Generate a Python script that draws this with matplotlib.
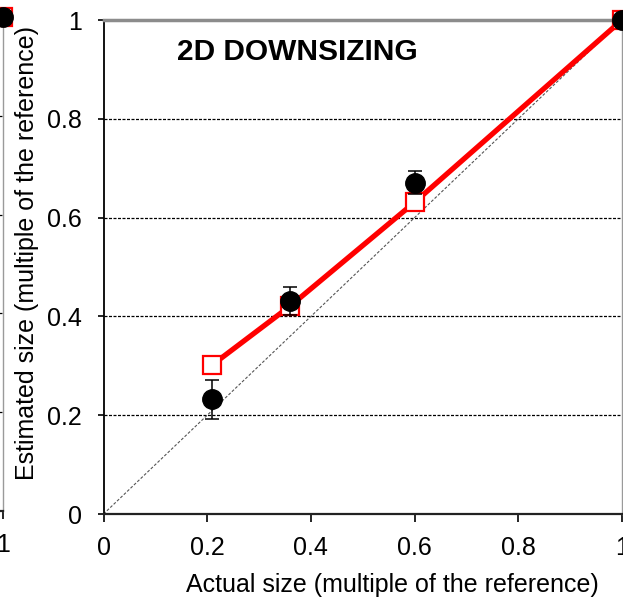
import matplotlib
matplotlib.use('Agg')
import matplotlib.pyplot as plt

plt.rcParams['font.family'] = ['Liberation Sans', 'DejaVu Sans']

# ---- data ----
actual = [0.21, 0.36, 0.60, 1.0]
estimated = [0.232, 0.431, 0.671, 1.0]
est_err = [0.039, 0.028, 0.023, 0.0]
model = [0.302, 0.421, 0.631, 1.0]
tick_vals = [0, 0.2, 0.4, 0.6, 0.8, 1]
tick_labels = ['0', '0.2', '0.4', '0.6', '0.8', '1']
grid_levels = [0.2, 0.4, 0.6, 0.8]
title = '2D DOWNSIZING'
xlabel = 'Actual size (multiple of the reference)'
ylabel = 'Estimated size (multiple of the reference)'
# neighbouring (cropped) panel: only its last point is visible
nb_actual = [1.0]
nb_estimated = [1.0]
nb_model = [1.0]

W, H = 623, 599
fig = plt.figure(figsize=(W / 100, H / 100), dpi=100)
fig.patch.set_facecolor('white')


def px_axes(l, t, r, b):
    return fig.add_axes([l / W, 1 - b / H, (r - l) / W, (b - t) / H])


def style(ax):
    ax.set_xlim(0, 1)
    ax.set_ylim(0, 1)
    ax.set_facecolor('white')
    for lv in grid_levels:
        ax.axhline(lv, color='black', lw=0.9, ls=(0, (2.4, 1.2)), zorder=1)
    ax.spines['top'].set_color('#8c8c8c')
    ax.spines['top'].set_linewidth(2.5)
    ax.spines['right'].set_color('#9a9a9a')
    ax.spines['right'].set_linewidth(1.0)
    ax.spines['left'].set_color('black')
    ax.spines['left'].set_linewidth(1.3)
    ax.spines['bottom'].set_color('#222222')
    ax.spines['bottom'].set_linewidth(1.6)
    ax.set_xticks(tick_vals)
    ax.set_xticklabels(tick_labels)
    ax.set_yticks(tick_vals)
    ax.set_yticklabels(tick_labels)
    ax.tick_params(axis='x', direction='out', length=6, width=1.2,
                   labelsize=18, pad=9.5, colors='black')
    ax.tick_params(axis='y', direction='out', length=4.5, width=1.2,
                   labelsize=18, pad=11, colors='black')


# neighbour panel (cropped on the left)
nb = px_axes(3 - 518.5, 17, 3, 511)
style(nb)
nb.plot(nb_actual, nb_model, ls='none', marker='s', ms=12.5, mfc='white',
        mec='red', mew=1.6, zorder=4, clip_on=False)
nb.plot(nb_actual, nb_estimated, ls='none', marker='o', ms=14,
        color='black', zorder=6, clip_on=False)

# main panel
ax = px_axes(103.5, 20, 622, 514)
style(ax)
ax.plot([0, 1], [0, 1], color='#555555', lw=0.8, ls=(0, (2.6, 1.6)),
        zorder=1.5)
ax.plot(actual, model, color='red', lw=3.8, zorder=3, clip_on=False,
        solid_capstyle='butt')
ax.plot(actual, model, ls='none', marker='s', ms=12.5, mfc='white',
        mec='red', mew=1.6, zorder=4, clip_on=False)
ax.errorbar(actual, estimated, yerr=est_err, fmt='none', ecolor='black',
            elinewidth=1.1, capsize=4.8, capthick=1.1, zorder=5)
ax.plot(actual, estimated, ls='none', marker='o', ms=14, color='black',
        zorder=6, clip_on=False)

ax.text(177 / W, 1 - 60 / H, title, transform=fig.transFigure,
        fontsize=21.5, fontweight='bold', ha='left', va='baseline')

fig.text(392 / W, 1 - 585 / H, xlabel, fontsize=18, ha='center',
         va='center')
fig.text(27 / W, 1 - 253 / H, ylabel, fontsize=18, ha='center',
         va='center', rotation=90)

fig.savefig('out.png', dpi=100, facecolor='white')
